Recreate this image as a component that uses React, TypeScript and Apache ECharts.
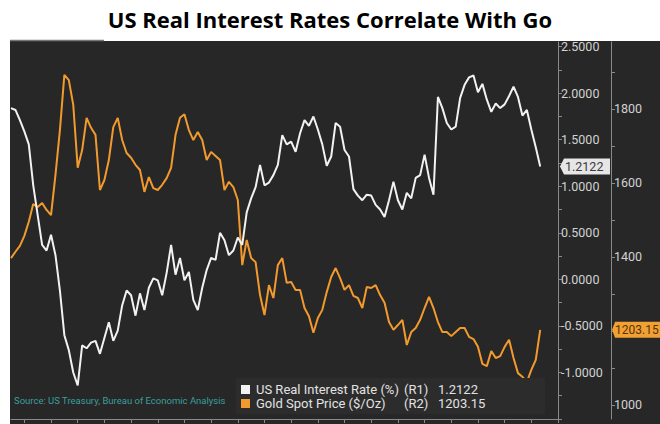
import React, { useEffect, useRef } from "react";
import * as echarts from "echarts";

// ---- data ----
const titleText = "US Real Interest Rates Correlate With Go";
const sourceText = "Source: US Treasury, Bureau of Economic Analysis";
const rateName = "US Real Interest Rate (%)";
const goldName = "Gold Spot Price ($/Oz)";
const legendAxisTags = ["(R1)", "(R2)"];
const legendLastValues = ["1.2122", "1203.15"];

// months since start of sample, half-month steps
const months = Array.from({ length: 120 }, (_, i) => i * 0.5);

const rateValues = [
  1.84, 1.82, 1.71, 1.59, 1.45, 1.01, 0.69, 0.37, 0.31, 0.48,
  0.26, -0.12, -0.6, -0.76, -1.0, -1.14, -0.71, -0.74, -0.68, -0.66,
  -0.8, -0.63, -0.46, -0.66, -0.55, -0.28, -0.12, -0.17, -0.39, -0.15,
  -0.33, -0.09, 0.01, -0.01, -0.17, 0.07, 0.37, 0.05, 0.23, -0.01,
  0.08, -0.22, -0.33, -0.09, 0.1, 0.23, 0.21, 0.5, 0.42, 0.26,
  0.31, 0.45, 0.37, 0.72, 0.87, 0.99, 1.23, 1.01, 1.04, 1.12,
  1.23, 1.55, 1.45, 1.48, 1.37, 1.57, 1.71, 1.65, 1.75, 1.61,
  1.45, 1.22, 1.32, 1.68, 1.64, 1.39, 1.32, 0.97, 0.9, 0.85,
  0.91, 0.9, 0.8, 0.75, 0.67, 0.85, 1.05, 0.85, 0.75, 0.93,
  0.87, 1.09, 1.12, 1.34, 1.09, 0.91, 1.96, 1.84, 1.68, 1.61,
  1.64, 1.95, 2.09, 2.17, 2.19, 2.01, 2.1, 1.93, 1.8, 1.89,
  1.84, 1.88, 1.97, 2.07, 1.96, 1.76, 1.82, 1.61, 1.42, 1.2122,
];

const goldValues = [
  1397, 1414, 1430, 1457, 1495, 1543, 1535, 1546, 1527, 1513,
  1622, 1743, 1892, 1878, 1811, 1641, 1689, 1776, 1749, 1730,
  1581, 1608, 1662, 1751, 1776, 1716, 1681, 1668, 1649, 1635,
  1576, 1616, 1586, 1581, 1595, 1613, 1641, 1730, 1776, 1786,
  1743, 1716, 1738, 1716, 1662, 1684, 1673, 1662, 1581, 1603,
  1589, 1554, 1378, 1446, 1397, 1386, 1297, 1243, 1324, 1289,
  1378, 1397, 1330, 1332, 1311, 1311, 1262, 1240, 1195, 1235,
  1257, 1305, 1346, 1370, 1343, 1311, 1324, 1295, 1289, 1262,
  1319, 1316, 1324, 1297, 1276, 1224, 1203, 1216, 1230, 1162,
  1197, 1208, 1230, 1262, 1292, 1262, 1224, 1197, 1197, 1186,
  1197, 1208, 1208, 1184, 1178, 1157, 1111, 1105, 1146, 1127,
  1132, 1157, 1176, 1127, 1086, 1076, 1062, 1095, 1122, 1203.15,
];

// axis ticks / labels
const xMin = 0;
const xMax = 61.5;
const xTickValues = [
  1.5, 4.5, 7.5, 10.5, 13.5, 16.5, 19.5, 22.5, 25.5, 28.5, 31.5,
  34.5, 37.5, 40.5, 43.5, 46.5, 49.5, 52.5, 55.5, 58.5, 61.5,
];
const rateMin = -1.5;
const rateMax = 2.55;
const rateTickValues = [
  -1.5, -1.25, -1, -0.75, -0.5, -0.25, 0, 0.25, 0.5, 0.75, 1, 1.25, 1.5,
  1.75, 2, 2.25, 2.5,
];
const rateLabelValues = [-1, -0.5, 0, 0.5, 1, 1.5, 2, 2.5];
const goldMin = 962;
const goldMax = 1981;
const goldTickValues = [1000, 1100, 1200, 1300, 1400, 1500, 1600, 1700, 1800, 1900];
const goldLabelValues = [1000, 1400, 1600, 1800];

const FONT = "Roboto, 'Noto Sans', sans-serif";
const DARK = "#272727";
const AXIS = "#8a8a8a";
const LABEL = "#d2d2d2";
const WHITE_LINE = "#f2f2f2";
const GOLD_LINE = "#f39a2e";

export default function App() {
  const ref = useRef<HTMLDivElement>(null);

  useEffect(() => {
    if (!ref.current) return;
    const chart = echarts.init(ref.current, null, { renderer: "svg" });

    const rateData = months.map((m, i) => [m, rateValues[i]]);
    const goldData = months.map((m, i) => [m, goldValues[i]]);

    const baseGraphics: any[] = [
      {
        id: "bg",
        type: "rect",
        z: -10,
        shape: { x: 10, y: 41, width: 650, height: 383 },
        style: { fill: DARK },
        silent: true,
      },
      {
        id: "topline",
        type: "line",
        z: -9,
        shape: { x1: 10, y1: 40.5, x2: 104, y2: 40.5 },
        style: { stroke: "#777", lineWidth: 1.5 },
        silent: true,
      },
      {
        id: "source",
        type: "text",
        z: 50,
        x: 14,
        y: 400,
        style: {
          text: sourceText,
          fill: "#3a9f9c",
          font: `9.5px ${FONT}`,
          verticalAlign: "middle",
        },
        silent: true,
      },
    ];

    const richBase = { color: "#e2e2e2", fontSize: 13, fontFamily: FONT, lineHeight: 12 };

    const option: any = {
      animation: false,
      backgroundColor: "#ffffff",
      title: {
        text: titleText,
        left: "center",
        top: 3,
        textStyle: {
          fontFamily: "'Open Sans', Lato, sans-serif",
          fontWeight: "bold",
          fontSize: 22,
          color: "#000",
        },
      },
      grid: { left: 11, right: 102, top: 42, bottom: 5, containLabel: false },
      legend: {
        data: [rateName, goldName],
        orient: "vertical",
        left: 236,
        top: 378,
        padding: [5, 60, 4, 5],
        backgroundColor: "#2c2c2c",
        icon: "rect",
        itemWidth: 9,
        itemHeight: 9,
        itemGap: 1,
        selectedMode: false,
        formatter: (name: string) => {
          const idx = name === rateName ? 0 : 1;
          return `{n|${name}}{r|${legendAxisTags[idx]}}{v|${legendLastValues[idx]}}`;
        },
        textStyle: {
          ...richBase,
          padding: [0, 0, 0, 1],
          rich: {
            n: { ...richBase, width: 148 },
            r: { ...richBase, width: 34 },
            v: { ...richBase },
          },
        },
      },
      xAxis: {
        type: "value",
        min: xMin,
        max: xMax,
        axisLine: { show: true, onZero: false, lineStyle: { color: AXIS, width: 1 } },
        axisTick: {
          show: true,
          inside: false,
          length: 4,
          customValues: xTickValues,
          lineStyle: { color: AXIS },
        },
        axisLabel: { show: false },
        splitLine: { show: false },
      },
      yAxis: [
        {
          type: "value",
          position: "right",
          min: rateMin,
          max: rateMax,
          axisLine: { show: true, onZero: false, lineStyle: { color: AXIS, width: 1 } },
          axisTick: {
            show: true,
            inside: false,
            length: 4,
            customValues: rateTickValues,
            lineStyle: { color: AXIS },
          },
          axisLabel: {
            show: true,
            margin: 3,
            customValues: rateLabelValues,
            formatter: (v: number) => v.toFixed(4),
            color: LABEL,
            fontSize: 12.5,
            fontFamily: FONT,
          },
          splitLine: { show: false },
        },
        {
          type: "value",
          position: "right",
          offset: 53,
          min: goldMin,
          max: goldMax,
          axisLine: { show: true, onZero: false, lineStyle: { color: AXIS, width: 1 } },
          axisTick: {
            show: true,
            inside: false,
            length: 4,
            customValues: goldTickValues,
            lineStyle: { color: AXIS },
          },
          axisLabel: {
            show: true,
            margin: 3,
            customValues: goldLabelValues,
            formatter: (v: number) => String(v),
            color: LABEL,
            fontSize: 12.5,
            fontFamily: FONT,
          },
          splitLine: { show: false },
        },
      ],
      series: [
        {
          name: goldName,
          type: "line",
          yAxisIndex: 1,
          data: goldData,
          showSymbol: false,
          color: GOLD_LINE,
          lineStyle: { color: GOLD_LINE, width: 2 },
          z: 3,
        },
        {
          name: rateName,
          type: "line",
          yAxisIndex: 0,
          data: rateData,
          showSymbol: false,
          color: WHITE_LINE,
          lineStyle: { color: WHITE_LINE, width: 2 },
          z: 4,
        },
      ],
      graphic: baseGraphics,
    };

    chart.setOption(option);

    const lastRate = rateValues[rateValues.length - 1];
    const lastGold = goldValues[goldValues.length - 1];
    const xa = chart.convertToPixel({ xAxisIndex: 0 }, xMax) as number;
    const xb = xa + 53;
    const y1 = chart.convertToPixel({ yAxisIndex: 0 }, lastRate) as number;
    const y2 = chart.convertToPixel({ yAxisIndex: 1 }, lastGold) as number;

    const tagGraphics: any[] = [
      {
        id: "tag1",
        type: "polygon",
        z: 60,
        shape: {
          points: [
            [xa + 2, y1],
            [xa + 6, y1 - 8],
            [xb - 1, y1 - 8],
            [xb - 1, y1 + 8],
            [xa + 6, y1 + 8],
          ],
        },
        style: { fill: "#e6e6e6" },
        silent: true,
      },
      {
        id: "tag1text",
        type: "text",
        z: 61,
        x: xa + 7,
        y: y1,
        style: {
          text: legendLastValues[0],
          fill: "#3a3a3a",
          font: `12.5px ${FONT}`,
          verticalAlign: "middle",
        },
        silent: true,
      },
      {
        id: "tag2",
        type: "polygon",
        z: 60,
        shape: {
          points: [
            [xb + 1, y2],
            [xb + 4, y2 - 8],
            [660, y2 - 8],
            [660, y2 + 8],
            [xb + 4, y2 + 8],
          ],
        },
        style: { fill: "#f0a035" },
        silent: true,
      },
      {
        id: "tag2text",
        type: "text",
        z: 61,
        x: xb + 4,
        y: y2,
        style: {
          text: legendLastValues[1],
          fill: "#5a3300",
          font: `12px ${FONT}`,
          verticalAlign: "middle",
        },
        silent: true,
      },
    ];

    chart.setOption({ graphic: [...baseGraphics, ...tagGraphics] });

    return () => {
      chart.dispose();
    };
  }, []);

  return (
    <div
      ref={ref}
      style={{ position: "fixed", left: 0, top: 0, width: 660, height: 424 }}
    />
  );
}
